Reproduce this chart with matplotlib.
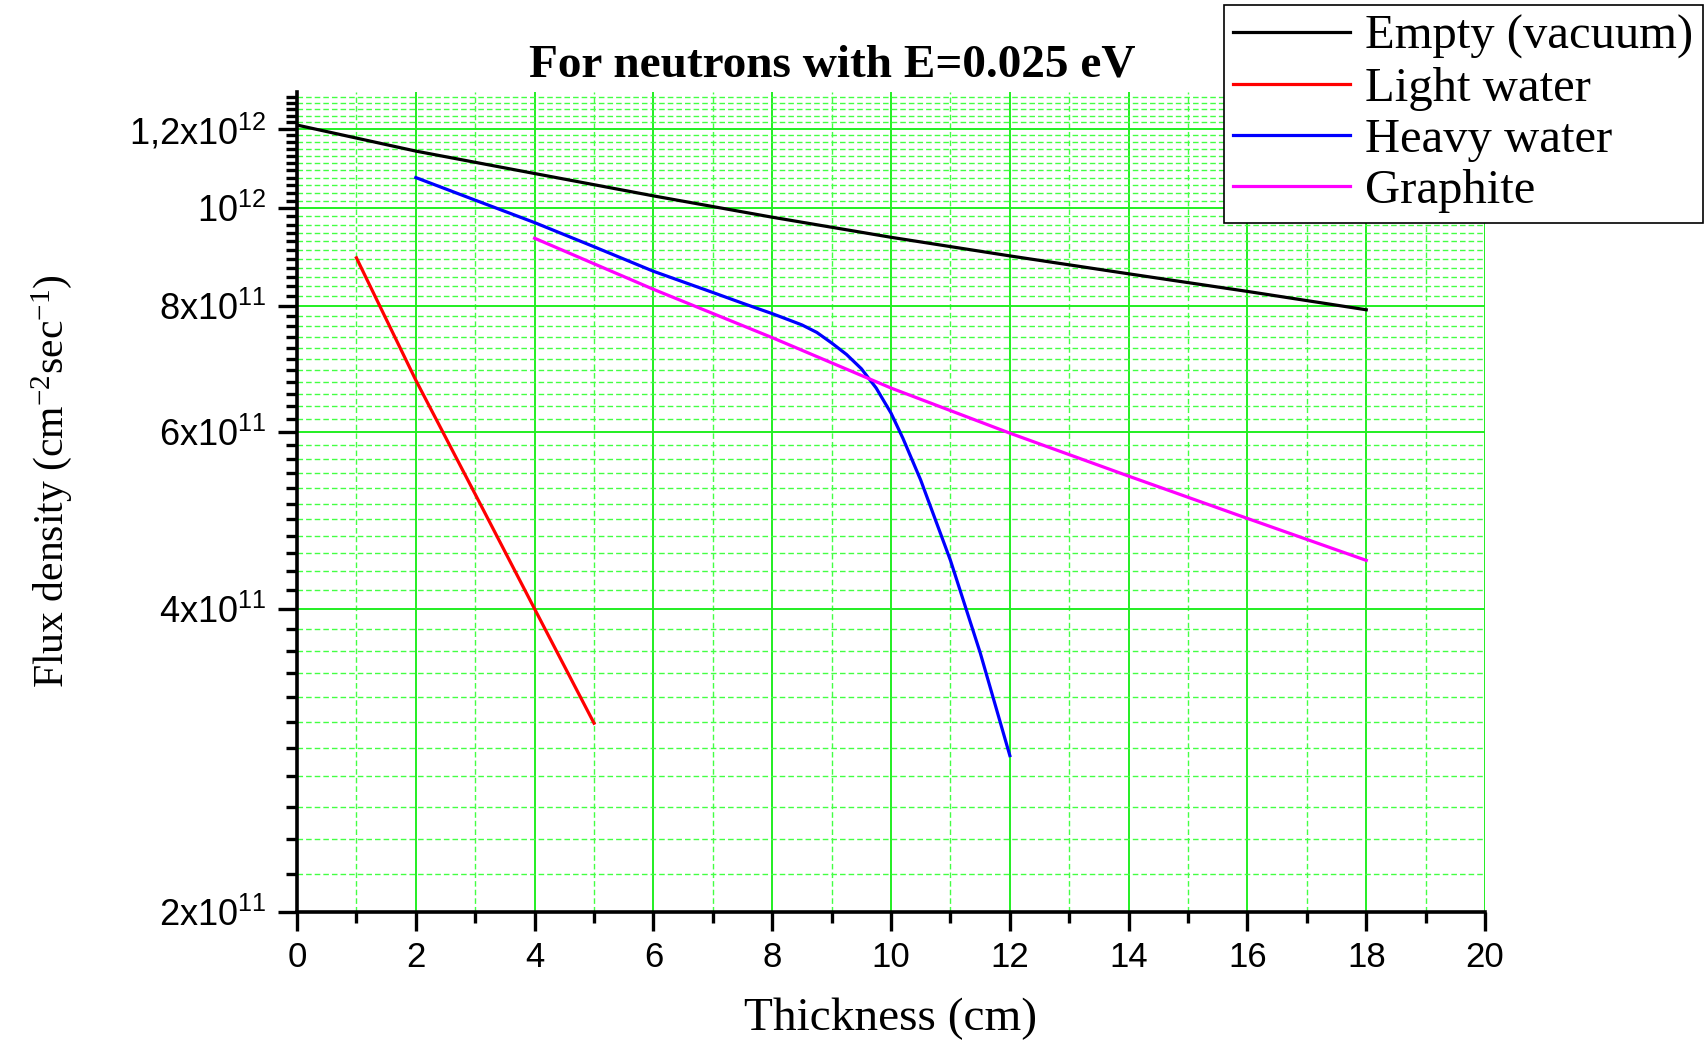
import matplotlib
matplotlib.use("Agg")
import matplotlib.pyplot as plt
import matplotlib.lines as mlines
from matplotlib.ticker import NullFormatter
import numpy as np

# valeurs (flux en cm-2 s-1)
x_vide = [0, 2, 4, 6, 8, 10, 12, 14, 16, 18]
y_vide = [1.210e12, 1.140e12, 1.083e12, 1.029e12, 0.980e12, 0.936e12, 0.897e12, 0.861e12, 0.827e12, 0.793e12]

x_eau = [1, 2, 3, 4, 5]
y_eau = [8.93e11, 6.75e11, 5.20e11, 4.00e11, 3.08e11]

x_eau_lourde = [2, 3, 4, 5, 6, 7, 7.5, 8, 8.25, 8.5, 8.75, 9, 9.25, 9.5, 9.75, 10, 10.2, 10.5, 11, 11.5, 12]
y_eau_lourde = [1.073e12, 1.019e12, 0.968e12, 0.916e12, 0.866e12, 0.825e12, 0.805e12, 0.786e12,
                0.776e12, 0.766e12, 0.753e12, 0.735e12, 0.716e12, 0.693e12, 0.663e12, 0.626e12,
                0.591e12, 0.537e12, 0.447e12, 0.362e12, 0.286e12]

x_graphite = [4, 6, 8, 10, 12, 14, 16, 18]
y_graphite = [0.934e12, 0.831e12, 0.744e12, 0.663e12, 0.598e12, 0.542e12, 0.492e12, 0.447e12]

noms = ["Empty (vacuum)", "Light water", "Heavy water", "Graphite"]
couleurs = ["#000000", "#ff0000", "#0000ff", "#ff00ff"]

yticks = [2e11, 4e11, 6e11, 8e11, 1e12, 1.2e12]
ytick_labels = ["2x10$^{11}$", "4x10$^{11}$", "6x10$^{11}$", "8x10$^{11}$", "10$^{12}$", "1,2x10$^{12}$"]

plt.rcParams['mathtext.default'] = 'regular'
sans = "Liberation Sans"
serif = "Liberation Serif"

fig = plt.figure(figsize=(17.06, 10.42), dpi=100)
ax = fig.add_axes([0.1741, 0.1248, 0.6964, 0.7869])

series = [(x_vide, y_vide), (x_eau, y_eau), (x_eau_lourde, y_eau_lourde), (x_graphite, y_graphite)]
for (xs, ys), c in zip(series, couleurs):
    ax.plot(xs, ys, color=c, lw=2.3, zorder=3, solid_joinstyle='round')

ax.set_yscale('log')
ax.set_xlim(0, 20)
ax.set_ylim(2e11, 1.305e12)

ax.set_xticks(np.arange(0, 21, 2))
ax.set_xticks(np.arange(1, 20, 2), minor=True)
ax.set_xticklabels([str(v) for v in range(0, 21, 2)], fontfamily=sans, fontsize=25)

# graduations secondaires : 10 entre chaque graduation principale
mineurs = []
for base in yticks:
    for k in range(1, 11):
        v = base + k * 2e11 / 11
        if v < 1.305e12:
            mineurs.append(v)
ax.set_yticks(yticks)
ax.set_yticks(mineurs, minor=True)
ax.yaxis.set_minor_formatter(NullFormatter())
ax.set_yticklabels(ytick_labels, fontfamily=sans, fontsize=26)

ax.tick_params(axis='both', which='major', direction='out', length=14, width=2.4)
ax.tick_params(axis='both', which='minor', direction='out', length=8, width=2.4)
ax.tick_params(axis='y', which='major', pad=8)
ax.tick_params(axis='x', which='major', pad=7)

ax.grid(which='major', color='#22ee22', lw=1.4, ls='-')
ax.grid(which='minor', color='#44ff44', lw=1.0, ls=(0, (4, 2.2)))
ax.set_axisbelow(True)

for s in ['top', 'right']:
    ax.spines[s].set_visible(False)
for s in ['left', 'bottom']:
    ax.spines[s].set_linewidth(2.6)

fig.text(0.488, 0.937, "For neutrons with E=0.025 eV", ha='center', va='center',
         fontfamily=serif, fontweight='bold', fontsize=34)
fig.text(0.5223, 0.022, "Thickness (cm)", ha='center', va='center', fontfamily=serif, fontsize=34)
fig.text(0.030, 0.538, "Flux density (cm$^{-2}$sec$^{-1}$)", ha='center', va='center', rotation=90,
         fontfamily=serif, fontsize=30)

# légende
handles = [mlines.Line2D([], [], color=c, lw=2.3, label=n) for n, c in zip(noms, couleurs)]
leg = fig.legend(handles=handles, loc='upper right', bbox_to_anchor=(0.998, 0.995),
                 prop={'family': serif, 'size': 35}, frameon=True, fancybox=False,
                 handlelength=2.4, handletextpad=0.3, labelspacing=0.15, borderpad=0.2,
                 borderaxespad=0.0)
leg.get_frame().set_edgecolor('black')
leg.get_frame().set_linewidth(1.2)
leg.get_frame().set_alpha(1)

fig.savefig("out.png", dpi=100)
